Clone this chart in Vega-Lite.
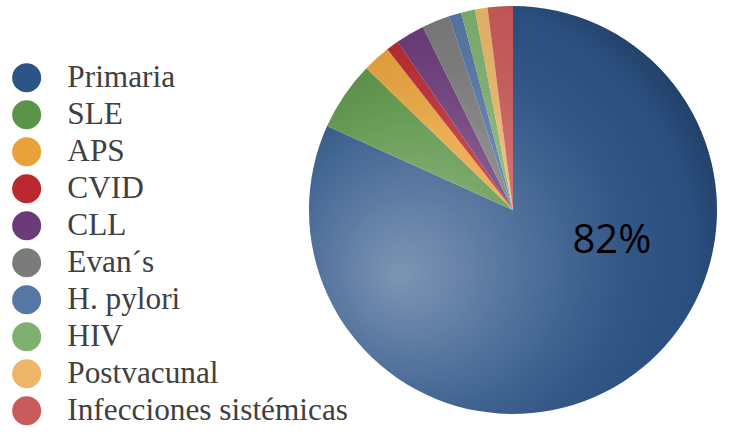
{
  "$schema": "https://vega.github.io/schema/vega-lite/v6.json",
  "width": 450,
  "height": 420,
  "autosize": "none",
  "padding": {"left": 288, "top": 0, "right": 0, "bottom": 20},
  "background": "white",
  "config": {"view": {"stroke": null}},
  "datasets": {
    "causes": [
      {"i": 1, "causa": "Primaria", "pct": 82, "label": "82%"},
      {"i": 2, "causa": "SLE", "pct": 5.5, "label": ""},
      {"i": 3, "causa": "APS", "pct": 2.2, "label": ""},
      {"i": 4, "causa": "CVID", "pct": 1, "label": ""},
      {"i": 5, "causa": "CLL", "pct": 2.3, "label": ""},
      {"i": 6, "causa": "Evan´s", "pct": 2.2, "label": ""},
      {"i": 7, "causa": "H. pylori", "pct": 1, "label": ""},
      {"i": 8, "causa": "HIV", "pct": 1.1, "label": ""},
      {"i": 9, "causa": "Postvacunal", "pct": 1, "label": ""},
      {"i": 10, "causa": "Infecciones sistémicas", "pct": 2, "label": ""}
    ],
    "shade": [{"v": 1}]
  },
  "layer": [
    {
      "data": {"name": "causes"},
      "mark": {"type": "arc", "outerRadius": 204, "strokeWidth": 0},
      "encoding": {
        "theta": {"field": "pct", "type": "quantitative", "stack": true},
        "order": {"field": "i", "type": "quantitative"},
        "color": {
          "field": "causa",
          "type": "nominal",
          "sort": null,
          "scale": {
            "domain": ["Primaria", "SLE", "APS", "CVID", "CLL", "Evan´s", "H. pylori", "HIV", "Postvacunal", "Infecciones sistémicas"],
            "range": ["#2d5487", "#5b9447", "#e9a23b", "#b9292f", "#6b3b79", "#7b7b7b", "#5677a6", "#7fb06f", "#ecb76a", "#ca5b5b"]
          },
          "legend": {
            "orient": "none",
            "legendX": -277,
            "legendY": 62,
            "title": null,
            "symbolType": "circle",
            "symbolSize": 841,
            "symbolStrokeWidth": 0,
            "symbolOpacity": 1,
            "labelFont": "Liberation Serif",
            "labelFontSize": 31.3,
            "labelColor": "#404040",
            "labelOffset": 25,
            "labelLimit": 400,
            "rowPadding": 5.0
          }
        }
      }
    },
    {
      "data": {"name": "shade"},
      "mark": {
        "type": "arc",
        "outerRadius": 204,
        "strokeWidth": 0,
        "fill": {
          "gradient": "radial",
          "x1": 0.22, "y1": 0.66, "r1": 0,
          "x2": 0.35, "y2": 0.6, "r2": 0.72,
          "stops": [
            {"offset": 0, "color": "rgba(255,255,255,0.38)"},
            {"offset": 0.45, "color": "rgba(255,255,255,0.12)"},
            {"offset": 0.85, "color": "rgba(0,0,0,0.05)"},
            {"offset": 1, "color": "rgba(0,0,0,0.3)"}
          ]
        }
      },
      "encoding": {
        "theta": {"field": "v", "type": "quantitative"}
      }
    },
    {
      "data": {"name": "causes"},
      "mark": {"type": "text", "radius": 103, "dx": 43, "dy": -56, "font": "Open Sans", "fontSize": 40, "color": "#000000", "align": "center", "baseline": "middle"},
      "encoding": {
        "theta": {"field": "pct", "type": "quantitative", "stack": true},
        "order": {"field": "i", "type": "quantitative"},
        "text": {"field": "label", "type": "nominal"}
      }
    }
  ],
  "resolve": {"scale": {"theta": "independent"}}
}
